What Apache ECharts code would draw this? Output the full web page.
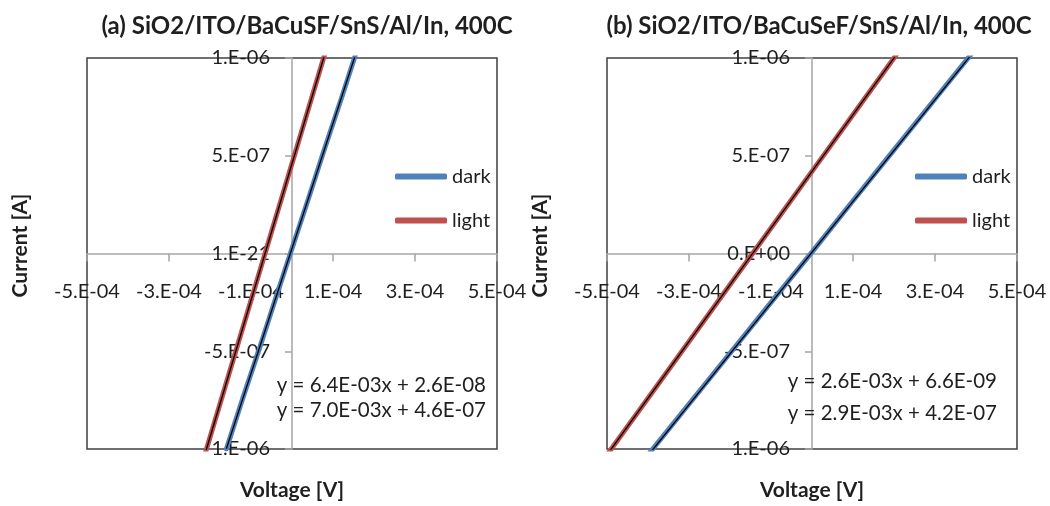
<!DOCTYPE html>
<html>
<head>
<meta charset="utf-8">
<script src="https://cdn.jsdelivr.net/npm/echarts@6/dist/echarts.min.js"></script>
<style>
html,body{margin:0;padding:0;background:#fff;}
#chart{width:1050px;height:506px;}
</style>
</head>
<body>
<div id="chart"></div>
<script>
// ---- data ----
const chartTitles = ['(a) SiO2/ITO/BaCuSF/SnS/Al/In, 400C', '(b) SiO2/ITO/BaCuSeF/SnS/Al/In, 400C'];
const seriesNames = ['dark', 'light'];
const xAxisTitle = 'Voltage [V]';
const yAxisTitle = 'Current [A]';
const xTickLabels = ['-5.E-04', '-3.E-04', '-1.E-04', '1.E-04', '3.E-04', '5.E-04'];
const yTickLabelsA = ['1.E-06', '-5.E-07', '1.E-21', '5.E-07', '1.E-06'];
const yTickLabelsB = ['1.E-06', '-5.E-07', '0.E+00', '5.E-07', '1.E-06'];

// chart (a)
const voltDarkA  = [-1.6e-4, -1.2e-4, -8.0e-5, -4.0e-5, 0, 4.0e-5, 8.0e-5, 1.2e-4, 1.6e-4];
const currDarkA  = [-1.00e-6, -7.4e-7, -4.9e-7, -2.3e-7, 2.6e-8, 2.8e-7, 5.4e-7, 7.9e-7, 1.05e-6];
const voltLightA = [-2.1e-4, -1.6e-4, -1.2e-4, -8.0e-5, -4.0e-5, 0, 4.0e-5, 8.0e-5];
const currLightA = [-1.01e-6, -6.6e-7, -3.8e-7, -1.0e-7, 1.8e-7, 4.6e-7, 7.4e-7, 1.02e-6];
// chart (b)
const voltDarkB  = [-4.0e-4, -3.0e-4, -2.0e-4, -1.0e-4, 0, 1.0e-4, 2.0e-4, 3.0e-4, 4.0e-4];
const currDarkB  = [-1.03e-6, -7.7e-7, -5.1e-7, -2.5e-7, 7e-9, 2.7e-7, 5.3e-7, 7.9e-7, 1.05e-6];
const voltLightB = [-5.0e-4, -4.0e-4, -3.0e-4, -2.0e-4, -1.0e-4, 0, 1.0e-4, 2.0e-4, 2.1e-4];
const currLightB = [-1.03e-6, -7.4e-7, -4.5e-7, -1.6e-7, 1.3e-7, 4.2e-7, 7.1e-7, 1.0e-6, 1.03e-6];

// linear trendline coefficients [dark, light]
const slopesA = [6.4e-3, 7.0e-3];
const interceptsA = [2.6e-8, 4.6e-7];
const slopesB = [2.6e-3, 2.9e-3];
const interceptsB = [6.6e-9, 4.2e-7];

// ---- helpers ----
const FONT = 'Lato, "Open Sans", sans-serif';
const TXT = '#1f1f1f';
const COLORS = ['#4F81BD', '#C0504D'];
function zip(xs, ys) { return xs.map((x, i) => [x, ys[i]]); }
function fmtE(v) {
  const s = v.toExponential(1).split('e');
  const e = parseInt(s[1], 10);
  return s[0] + 'E' + (e < 0 ? '-' : '+') + String(Math.abs(e)).padStart(2, '0');
}
function eqText(m, b) { return 'y = ' + fmtE(m) + 'x + ' + fmtE(b); }
function trend(xs, m, b) {
  const lo = Math.min.apply(null, xs), hi = Math.max.apply(null, xs);
  return [[lo, m * lo + b], [hi, m * hi + b]];
}

const GW = 410, GH = 391;
const grids = [
  { left: 87, top: 58, width: GW, height: GH },
  { left: 607, top: 58, width: GW, height: GH }
];

// axes are drawn through the origin (x = 0, y = 0), i.e. half way across the plot
function xAx(gi) {
  return {
    type: 'value', gridIndex: gi, min: -5e-4, max: 5e-4, interval: 2e-4,
    position: 'bottom', offset: -GH / 2,
    name: xAxisTitle, nameLocation: 'middle', nameGap: 226,
    nameTextStyle: { fontFamily: FONT, fontSize: 21, fontWeight: 'bold', color: TXT },
    axisLine: { onZero: false, lineStyle: { color: '#a6a6a6', width: 1.5 } },
    axisTick: { show: true, inside: false, length: 8, lineStyle: { color: '#a6a6a6', width: 1.5 } },
    axisLabel: {
      margin: 28, fontFamily: FONT, fontSize: 20, color: TXT, hideOverlap: false,
      formatter: (v, i) => xTickLabels[i] || ''
    },
    splitLine: { show: false }
  };
}
function yAx(gi, labels) {
  return {
    type: 'value', gridIndex: gi, min: -1e-6, max: 1e-6, interval: 5e-7,
    position: 'left', offset: -GW / 2,
    name: yAxisTitle, nameLocation: 'middle', nameGap: 261,
    nameTextStyle: { fontFamily: FONT, fontSize: 21, fontWeight: 'bold', color: TXT, padding: [0, 0, 0, 16] },
    axisLine: { onZero: false, lineStyle: { color: '#a6a6a6', width: 1.5 } },
    axisTick: { show: true, inside: false, length: 7, lineStyle: { color: '#a6a6a6', width: 1.5 } },
    axisLabel: {
      margin: 22, fontFamily: FONT, fontSize: 20, color: TXT, hideOverlap: false,
      formatter: (v, i) => labels[i] || ''
    },
    splitLine: { show: false }
  };
}

function dataSeries(name, gi, pts, color) {
  return {
    name: name, type: 'line', xAxisIndex: gi, yAxisIndex: gi, data: pts,
    showSymbol: false, symbol: 'none', clip: true, z: 2,
    lineStyle: { color: color, width: 5, cap: 'round' }, itemStyle: { color: color }
  };
}
function trendSeries(name, gi, pts) {
  return {
    name: name, type: 'line', xAxisIndex: gi, yAxisIndex: gi, data: pts,
    showSymbol: false, symbol: 'none', clip: true, z: 3, silent: true,
    lineStyle: { color: '#000000', width: 1.3 }, itemStyle: { color: '#000000' }
  };
}

function legend(left, top, gap) {
  return {
    data: seriesNames, orient: 'vertical', left: left, top: top,
    itemWidth: 52, itemHeight: 6, itemGap: gap, icon: 'roundRect',
    textStyle: { fontFamily: FONT, fontSize: 20, color: TXT, lineHeight: 23 },
    selectedMode: false
  };
}

function eqGraphic(x, y, text) {
  return {
    type: 'text', x: x, y: y, z: 10,
    style: { text: text, fill: TXT, font: '20.5px ' + FONT, align: 'right', verticalAlign: 'middle' }
  };
}

const option = {
  animation: false,
  backgroundColor: '#ffffff',
  title: [
    { text: chartTitles[0], left: 302, top: 9, textAlign: 'center',
      textStyle: { fontFamily: FONT, fontSize: 24, fontWeight: 'bold', color: TXT } },
    { text: chartTitles[1], left: 814, top: 9, textAlign: 'center',
      textStyle: { fontFamily: FONT, fontSize: 24, fontWeight: 'bold', color: TXT } }
  ],
  grid: grids.map(g => Object.assign({
    show: true, borderColor: '#404040', borderWidth: 1.5, backgroundColor: 'transparent',
    containLabel: false, outerBoundsMode: 'none'
  }, g)),
  xAxis: [xAx(0), xAx(1)],
  yAxis: [yAx(0, yTickLabelsA), yAx(1, yTickLabelsB)],
  legend: [legend(390, 160, 21), legend(910, 160, 21)],
  series: [
    dataSeries(seriesNames[0], 0, zip(voltDarkA, currDarkA), COLORS[0]),
    dataSeries(seriesNames[1], 0, zip(voltLightA, currLightA), COLORS[1]),
    trendSeries('Linear (dark) a', 0, trend(voltDarkA, slopesA[0], interceptsA[0])),
    trendSeries('Linear (light) a', 0, trend(voltLightA, slopesA[1], interceptsA[1])),
    dataSeries(seriesNames[0], 1, zip(voltDarkB, currDarkB), COLORS[0]),
    dataSeries(seriesNames[1], 1, zip(voltLightB, currLightB), COLORS[1]),
    trendSeries('Linear (dark) b', 1, trend(voltDarkB, slopesB[0], interceptsB[0])),
    trendSeries('Linear (light) b', 1, trend(voltLightB, slopesB[1], interceptsB[1]))
  ],
  graphic: [
    eqGraphic(486, 385, eqText(slopesA[0], interceptsA[0])),
    eqGraphic(486, 410, eqText(slopesA[1], interceptsA[1])),
    eqGraphic(997, 381, eqText(slopesB[0], interceptsB[0])),
    eqGraphic(997, 413, eqText(slopesB[1], interceptsB[1]))
  ]
};

const chart = echarts.init(document.getElementById('chart'), null, { renderer: 'canvas' });
chart.setOption(option);
</script>
</body>
</html>
